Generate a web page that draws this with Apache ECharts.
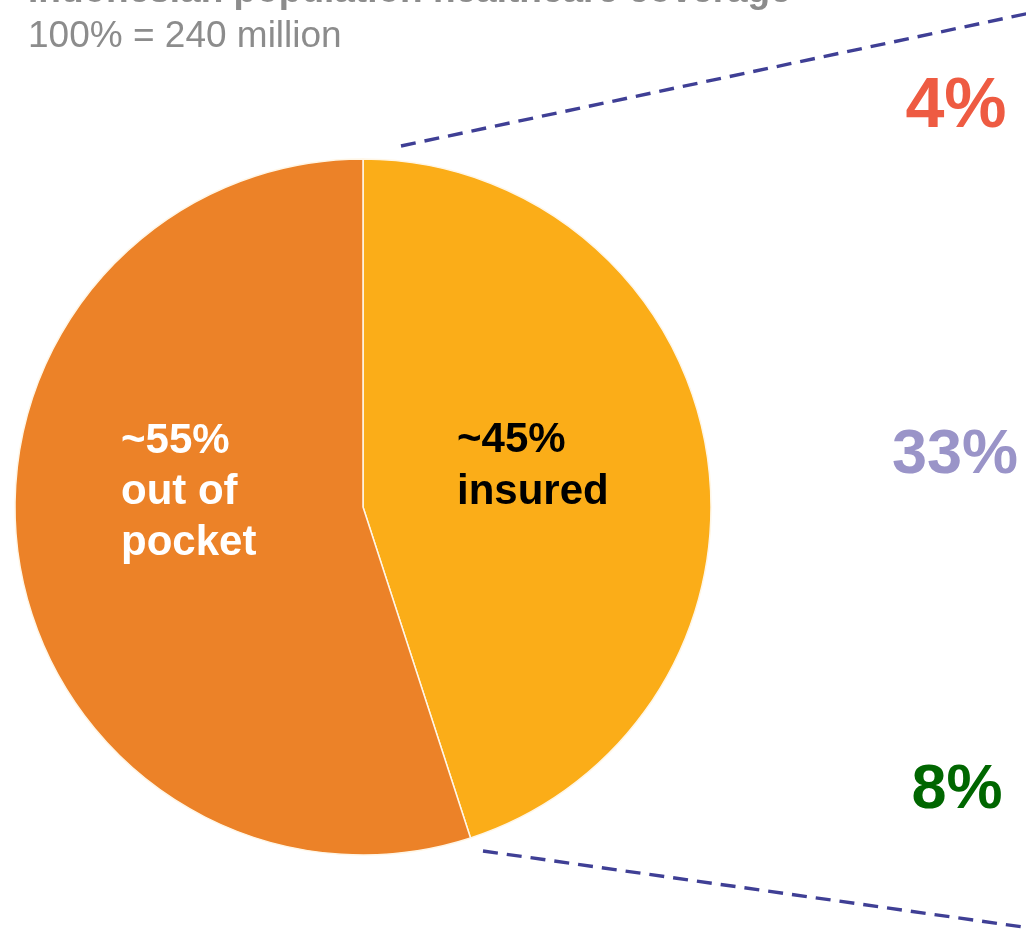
<!DOCTYPE html>
<html>
<head>
<meta charset="utf-8">
<script src="https://cdn.jsdelivr.net/npm/echarts@6/dist/echarts.min.js"></script>
<style>
html,body{margin:0;padding:0;background:#fff;}
#chart{width:1026px;height:932px;}
</style>
</head>
<body>
<div id="chart"></div>
<script>
// ---- data ----
const titleText = 'Indonesian population healthcare coverage';
const subtitleText = '100% = 240 million';
const categories = ['insured', 'out of pocket'];
const shares = [45, 55];
const sliceLabels = ['~45%\ninsured', '~55%\nout of\npocket'];
const sliceColors = ['#FBAD18', '#EC8228'];
const sliceLabelColors = ['#000000', '#FFFFFF'];
const breakdownLabels = ['4%', '33%', '8%'];
const breakdownColors = ['#EE5B42', '#9A94C8', '#006600'];

const FONT = '"Liberation Sans", Arial, Helvetica, sans-serif';
const chart = echarts.init(document.getElementById('chart'), null, {renderer: 'canvas'});

const cx = 363, cy = 507, R = 348;

const graphics = [
  {type: 'text', x: 28, y: -8, silent: true,
   style: {text: titleText, font: 'bold 37px ' + FONT, fill: '#8C8C8C', verticalAlign: 'middle'}},
  {type: 'text', x: 28, y: 37, silent: true,
   style: {text: subtitleText, font: '37px ' + FONT, fill: '#8C8C8C', verticalAlign: 'middle'}},
  {type: 'line', silent: true,
   shape: {x1: 401, y1: 146, x2: 1030, y2: 13},
   style: {stroke: '#3F3F95', lineWidth: 3.4, lineDash: [15, 9]}},
  {type: 'line', silent: true,
   shape: {x1: 483, y1: 851, x2: 1030, y2: 928},
   style: {stroke: '#3F3F95', lineWidth: 3.4, lineDash: [15, 9]}},
  // slice labels
  {type: 'text', x: 457, y: 466, silent: true, z: 10,
   style: {text: sliceLabels[0], font: 'bold 42px ' + FONT, lineHeight: 52, fill: sliceLabelColors[0], verticalAlign: 'middle', align: 'left'}},
  {type: 'text', x: 121, y: 492, silent: true, z: 10,
   style: {text: sliceLabels[1], font: 'bold 42px ' + FONT, lineHeight: 51, fill: sliceLabelColors[1], verticalAlign: 'middle', align: 'left'}}
];
const breakdownX = [956, 955, 957];
const breakdownY = [108, 456, 791];
const breakdownSize = [70, 63, 63];
breakdownLabels.forEach((t, i) => {
  graphics.push({type: 'text', x: breakdownX[i], y: breakdownY[i], silent: true,
    style: {text: t, font: 'bold ' + breakdownSize[i] + 'px ' + FONT, fill: breakdownColors[i], align: 'center', verticalAlign: 'middle'}});
});

chart.setOption({
  animation: false,
  backgroundColor: '#ffffff',
  series: [{
    type: 'pie',
    center: [cx, cy],
    radius: [0, R],
    startAngle: 90,
    clockwise: true,
    label: {show: false},
    labelLine: {show: false},
    emphasis: {disabled: true},
    itemStyle: {borderColor: '#FFF6E6', borderWidth: 1.5},
    data: categories.map((c, i) => ({name: c, value: shares[i], itemStyle: {color: sliceColors[i]}}))
  }],
  graphic: graphics
});
</script>
</body>
</html>
